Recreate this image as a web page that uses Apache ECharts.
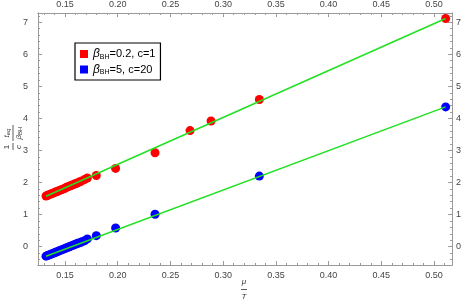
<!DOCTYPE html>
<html><head><meta charset="utf-8">
<script src="https://cdn.jsdelivr.net/npm/echarts@6/dist/echarts.min.js"></script>
<style>html,body{margin:0;padding:0;background:#fff}#c{width:464px;height:304px}</style>
</head><body><div id="c"></div>
<script>
// Data
var redX = [0.1320,0.1335,0.1350,0.1365,0.1380,0.1395,0.1410,0.1425,0.1440,0.1455,0.1470,0.1485,0.1500,0.1515,0.1530,0.1545,0.1560,0.1575,0.1590,0.1605,0.1620,0.1640,0.1660,0.1685,0.1712,0.1797,0.1980,0.2354,0.2686,0.2885,0.3343,0.5110];
var redY = [1.58,1.60,1.62,1.64,1.66,1.68,1.70,1.72,1.74,1.76,1.78,1.80,1.82,1.85,1.87,1.89,1.91,1.93,1.95,1.97,1.99,2.02,2.05,2.09,2.14,2.22,2.44,2.93,3.62,3.92,4.59,7.12];
var blueX = [0.1320,0.1335,0.1350,0.1365,0.1380,0.1395,0.1410,0.1425,0.1440,0.1455,0.1470,0.1485,0.1500,0.1515,0.1530,0.1545,0.1560,0.1575,0.1590,0.1605,0.1620,0.1640,0.1660,0.1685,0.1712,0.1797,0.1980,0.2354,0.3343,0.5110];
var blueY = [-0.30,-0.28,-0.26,-0.24,-0.22,-0.20,-0.18,-0.16,-0.14,-0.12,-0.10,-0.08,-0.06,-0.04,-0.02,0.00,0.02,0.04,0.06,0.08,0.10,0.12,0.15,0.18,0.24,0.34,0.58,1.01,2.20,4.36];
var redFitX = [0.1320, 0.5110];
var redFitY = [1.57, 7.12];
var blueFitX = [0.1320, 0.5110];
var blueFitY = [-0.30, 4.36];
var xTicks = [0.15,0.20,0.25,0.30,0.35,0.40,0.45,0.50];
var xMinor = [0.13,0.14,0.16,0.17,0.18,0.19,0.21,0.22,0.23,0.24,0.26,0.27,0.28,0.29,0.31,0.32,0.33,0.34,0.36,0.37,0.38,0.39,0.41,0.42,0.43,0.44,0.46,0.47,0.48,0.49,0.51];
var yTicks = [0,1,2,3,4,5,6,7];
var yMinor = [-0.4,-0.2,0.2,0.4,0.6,0.8,1.2,1.4,1.6,1.8,2.2,2.4,2.6,2.8,3.2,3.4,3.6,3.8,4.2,4.4,4.6,4.8,5.2,5.4,5.6,5.8,6.2,6.4,6.6,6.8,7.2];
var seriesNames = ['red','blue'];

function zip(a,b){return a.map(function(v,i){return [v,b[i]];});}
var XMIN=0.1244, XMAX=0.517, YMIN=-0.575, YMAX=7.29;
var axC='#9a9a9a', lblC='#444';
var font='"Liberation Sans", Arial, sans-serif';
function xAx(pos, show, values, len, labels){
  return {type:'value', position:pos, min:XMIN, max:XMAX, gridIndex:0,
    axisLine:{show:true, onZero:false, lineStyle:{color:axC,width:1}},
    axisTick:{show:true, inside:true, length:len, customValues:values, lineStyle:{color:axC}},
    axisLabel:{show:labels, customValues:values, color:lblC, fontSize:9, fontFamily:font, margin:pos==='top'?4:6,
      formatter:function(v){return v.toFixed(2);}},
    splitLine:{show:false}};
}
function yAx(pos, values, len, labels){
  return {type:'value', position:pos, min:YMIN, max:YMAX, gridIndex:0,
    axisLine:{show:true, onZero:false, lineStyle:{color:axC,width:1}},
    axisTick:{show:true, inside:true, length:len, customValues:values, lineStyle:{color:axC}},
    axisLabel:{show:labels, customValues:values, color:lblC, fontSize:9, fontFamily:font, margin:pos==='left'?10:4,
      formatter:function(v){return String(Math.round(v));}},
    splitLine:{show:false}};
}
var chart = echarts.init(document.getElementById('c'), null, {renderer:'canvas'});
var option = {
  animation:false,
  backgroundColor:'#fff',
  grid:{left:38, right:12, top:10, bottom:39},
  xAxis:[xAx('bottom',true,xTicks,4,true), xAx('top',true,xTicks,4,true), xAx('bottom',true,xMinor,2,false), xAx('top',true,xMinor,2,false)],
  yAxis:[yAx('left',yTicks,4,true), yAx('right',yTicks,4,true), yAx('left',yMinor,2,false), yAx('right',yMinor,2,false)],
  legend:{
    left:75, top:43, orient:'vertical', padding:[5,5,4,5], itemGap:3,
    borderColor:'#000', borderWidth:1.2, backgroundColor:'#fff',
    icon:'rect', itemWidth:8, itemHeight:8,
    data:seriesNames,
    textStyle:{fontSize:11, fontFamily:font, color:'#000',
      rich:{b:{fontSize:12, fontStyle:'italic', fontFamily:font, color:'#000'}, s:{fontSize:7, fontFamily:font, color:'#000', verticalAlign:'bottom', padding:[6,0,0,0]}, n:{fontSize:11, fontFamily:font, color:'#000'}}},
    formatter:function(n){ return n==='red' ? '{b|β}{s|BH}{n|=0.2, c=1}' : '{b|β}{s|BH}{n|=5, c=20}'; }
  },
  series:[
    {name:'redfit', type:'line', data:zip(redFitX,redFitY), symbol:'none', lineStyle:{color:'#22e022', width:1.5}, z:3, silent:true},
    {name:'bluefit', type:'line', data:zip(blueFitX,blueFitY), symbol:'none', lineStyle:{color:'#22e022', width:1.5}, z:3, silent:true},
    {name:'red', type:'scatter', data:zip(redX,redY), symbol:'circle', symbolSize:9, itemStyle:{color:'#ff0000', opacity:1}, z:2},
    {name:'blue', type:'scatter', data:zip(blueX,blueY), symbol:'circle', symbolSize:9, itemStyle:{color:'#0000ff', opacity:1}, z:2}
  ],
  graphic:[
    {type:'group', x:13, y:138, rotation:Math.PI/2, children:[
      {type:'text', x:-9, y:-6, style:{text:'1', font:'8px '+font, fill:'#333', textAlign:'center', textVerticalAlign:'middle'}},
      {type:'line', shape:{x1:-12,y1:0,x2:-5,y2:0}, style:{stroke:'#333', lineWidth:0.8}},
      {type:'text', x:-9, y:6, style:{text:'c', font:'italic 8px '+font, fill:'#333', textAlign:'center', textVerticalAlign:'middle'}},
      {type:'text', x:5, y:-6, style:{text:'{i|t}{s|eq}', rich:{i:{font:'italic 8px '+font, fill:'#333'}, s:{font:'italic 6px '+font, fill:'#333', padding:[3,0,0,0]}}, textAlign:'center', textVerticalAlign:'middle'}},
      {type:'line', shape:{x1:-3,y1:0,x2:13,y2:0}, style:{stroke:'#333', lineWidth:0.8}},
      {type:'text', x:5, y:6, style:{text:'{i|β}{s|BH}', rich:{i:{font:'italic 8px '+font, fill:'#333'}, s:{font:'6px '+font, fill:'#333', padding:[3,0,0,0]}}, textAlign:'center', textVerticalAlign:'middle'}}
    ]},
    {type:'text', x:244, y:282, style:{text:'μ', font:'italic 8px '+font, fill:'#333', textAlign:'center', textVerticalAlign:'middle'}},
    {type:'line', shape:{x1:241,y1:289.5,x2:247,y2:289.5}, style:{stroke:'#333', lineWidth:0.8}},
    {type:'text', x:244, y:297, style:{text:'T', font:'italic 8px '+font, fill:'#333', textAlign:'center', textVerticalAlign:'middle'}}
  ]
};
chart.setOption(option);
</script></body></html>
